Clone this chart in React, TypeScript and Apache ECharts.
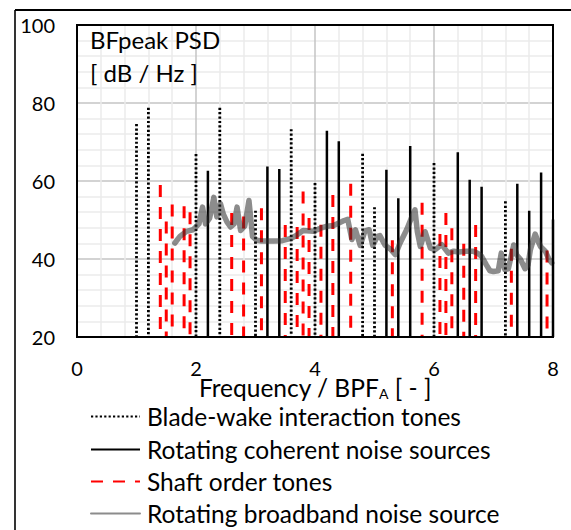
import React, { useEffect, useRef } from "react";
import * as echarts from "echarts";

// Blade-wake interaction tones (dotted black)
const bladeWakeX = [1.0, 1.2, 2.0, 2.4, 3.0, 3.6, 4.0, 4.8, 5.0, 6.0, 7.2];
const bladeWakeDb = [74.6, 78.8, 66.9, 78.8, 52.4, 73.3, 59.5, 67.0, 53.3, 64.6, 54.8];

// Rotating coherent noise sources (solid black)
const coherentX = [2.2, 3.2, 3.4, 4.2, 4.4, 5.2, 5.4, 5.6, 6.4, 6.6, 6.8, 7.4, 7.6, 7.8, 8.0];
const coherentDb = [62.6, 63.7, 63.1, 72.9, 70.2, 62.9, 55.6, 69.0, 67.4, 60.3, 58.5, 59.3, 52.4, 62.2, 50.1];

// Shaft order tones (dashed red)
const shaftX = [1.4, 1.5, 1.6, 1.8, 1.9, 2.6, 2.8, 3.1, 3.5, 3.7, 3.8, 3.9, 4.1, 4.3, 4.6, 5.3, 5.8, 6.1, 6.2, 6.3, 6.5, 6.7, 7.3, 7.9];
const shaftDb = [59.0, 49.6, 54.0, 53.5, 52.0, 51.8, 50.9, 53.0, 48.7, 48.2, 57.3, 50.5, 48.8, 56.4, 59.3, 44.8, 54.4, 46.4, 51.8, 47.9, 43.9, 48.7, 42.6, 42.2];

// Rotating broadband noise source (thick grey)
const broadbandX = [1.645, 1.73, 1.84, 1.95, 2.05, 2.11, 2.16, 2.23, 2.3, 2.35, 2.41, 2.46, 2.52, 2.58, 2.64, 2.69, 2.75, 2.82, 2.89, 2.95, 3.02, 3.1, 3.3, 3.45, 3.6, 3.7, 3.8, 3.97, 4.05, 4.11, 4.2, 4.31, 4.4, 4.48, 4.55, 4.62, 4.68, 4.76, 4.84, 4.91, 4.97, 5.05, 5.09, 5.18, 5.27, 5.35, 5.43, 5.54, 5.62, 5.68, 5.72, 5.77, 5.85, 5.94, 6.02, 6.13, 6.24, 6.33, 6.41, 6.55, 6.66, 6.73, 6.8, 6.88, 6.94, 7.0, 7.08, 7.13, 7.19, 7.25, 7.34, 7.39, 7.45, 7.53, 7.58, 7.62, 7.7, 7.75, 7.79, 7.87, 7.93, 7.98];
const broadbandDb = [44.1, 45.8, 47.1, 47.5, 49.0, 53.3, 49.0, 50.5, 55.8, 50.8, 54.2, 51.5, 49.5, 48.2, 49.0, 53.3, 47.3, 48.5, 55.0, 45.8, 44.8, 44.6, 44.6, 44.7, 45.3, 46.2, 47.3, 47.1, 47.6, 48.0, 48.4, 48.6, 49.2, 49.8, 50.2, 45.0, 47.5, 43.5, 47.2, 47.5, 43.5, 45.8, 46.0, 43.5, 42.5, 41.1, 44.1, 47.5, 50.5, 52.6, 47.0, 43.2, 47.0, 42.8, 42.4, 43.7, 41.5, 42.0, 41.8, 42.0, 42.0, 41.5, 40.7, 38.5, 37.0, 36.8, 37.0, 41.5, 37.3, 37.5, 43.6, 41.0, 40.0, 37.5, 38.5, 42.4, 46.4, 44.5, 43.2, 42.0, 40.0, 39.0];

const xTicks = [0, 2, 4, 6, 8];
const yTicks = [20, 40, 60, 80, 100];

const NAME_BW = "Blade-wake interaction tones";
const NAME_CO = "Rotating coherent noise sources";
const NAME_SH = "Shaft order tones";
const NAME_BB = "Rotating broadband noise source";
const legendNames = [NAME_BW, NAME_CO, NAME_SH, NAME_BB];

const FONT = "Lato, 'Noto Sans', sans-serif";

export default function App() {
  const ref = useRef<HTMLDivElement>(null);

  useEffect(() => {
    if (!ref.current) return;
    const chart = echarts.init(ref.current, null, { renderer: "svg" });
    const yMin = yTicks[0];

    const stems = (name: string, xs: number[], ys: number[], lineStyle: any, z: number) =>
      xs.map((x, i) => ({
        name,
        type: "line",
        data: [
          [x, ys[i]],
          [x, yMin],
        ],
        symbol: "none",
        silent: true,
        z,
        lineStyle,
        itemStyle: { color: lineStyle.color },
      }));

    const bwStyle = { color: "#000000", width: 2.8, type: [2.2, 2.2], cap: "butt" };
    const coStyle = { color: "#000000", width: 2.5, type: "solid", cap: "butt" };
    const shStyle = { color: "#ff0000", width: 3, type: [12, 10], cap: "butt" };
    const bbStyle = { color: "rgba(45,45,45,0.55)", width: 5.5, type: "solid", join: "round", cap: "round" };

    const series: any[] = [
      ...stems(NAME_BW, bladeWakeX, bladeWakeDb, bwStyle, 2),
      ...stems(NAME_CO, coherentX, coherentDb, coStyle, 3),
      ...stems(NAME_SH, shaftX, shaftDb, shStyle, 4),
      {
        name: NAME_BB,
        type: "line",
        data: broadbandX.map((x, i) => [x, broadbandDb[i]]),
        symbol: "none",
        silent: true,
        z: 5,
        lineStyle: bbStyle,
        itemStyle: { color: "#888888" },
      },
    ];

    const legendRowTops = [404, 437, 469, 501];
    const legends = legendNames.map((n, i) => ({
      orient: "vertical",
      left: 90,
      top: legendRowTops[i],
      padding: 0,
      itemWidth: 49,
      itemHeight: 14,
      data: [n],
      itemStyle: { opacity: 0, color: "transparent", borderWidth: 0 },
      textStyle: { fontSize: 24.5, fontFamily: FONT, color: "#000", lineHeight: 24, padding: [0, 0, 0, 2] },
      selectedMode: false,
    }));

    const option: any = {
      animation: false,
      grid: {
        left: 77,
        right: 18,
        top: 25,
        bottom: 193,
        show: true,
        borderColor: "#000000",
        borderWidth: 2,
        backgroundColor: "transparent",
        z: 10,
      },
      xAxis: {
        type: "value",
        min: xTicks[0],
        max: xTicks[xTicks.length - 1],
        interval: xTicks[1] - xTicks[0],
        axisLine: { show: false },
        axisTick: { show: false },
        minorTick: { show: false, splitNumber: 5 },
        splitLine: { show: true, lineStyle: { color: "#c4c4c4", width: 1.5 } },
        minorSplitLine: { show: true, lineStyle: { color: "#ebebeb", width: 1.5 } },
        axisLabel: { fontSize: 20, fontFamily: FONT, color: "#000", margin: 21 },
        name: "{a|Frequency / BPF}{s|A}{a| [ - ]}",
        nameLocation: "middle",
        nameGap: 37,
        nameMoveOverlap: false,
        nameTextStyle: {
          fontFamily: FONT,
          color: "#000",
          rich: {
            a: { fontSize: 24.5, fontFamily: FONT, color: "#000", lineHeight: 26 },
            s: { fontSize: 14, fontFamily: FONT, color: "#000", verticalAlign: "bottom", lineHeight: 26 },
          },
        },
      },
      yAxis: {
        type: "value",
        min: yTicks[0],
        max: yTicks[yTicks.length - 1],
        interval: yTicks[1] - yTicks[0],
        axisLine: { show: false },
        axisTick: { show: false },
        minorTick: { show: false, splitNumber: 5 },
        splitLine: { show: true, lineStyle: { color: "#c4c4c4", width: 1.5 } },
        minorSplitLine: { show: true, lineStyle: { color: "#ebebeb", width: 1.5 } },
        axisLabel: { fontSize: 20, fontFamily: FONT, color: "#000", margin: 22 },
      },
      legend: legends,
      graphic: [
        { type: "line", shape: { x1: 15, y1: 10, x2: 571, y2: 10 }, style: { stroke: "#000", lineWidth: 2 }, silent: true },
        { type: "line", shape: { x1: 15, y1: 10, x2: 15, y2: 530 }, style: { stroke: "#000", lineWidth: 1.6 }, silent: true },
        {
          type: "text",
          left: 90,
          top: 27,
          silent: true,
          style: { text: "BFpeak PSD", fontSize: 24, fontFamily: FONT, fill: "#000" },
          z: 20,
        },
        {
          type: "text",
          left: 90,
          top: 60,
          silent: true,
          style: { text: "[ dB / Hz ]", fontSize: 24, fontFamily: FONT, fill: "#000" },
          z: 20,
        },
      ],
      series,
    };

    chart.setOption(option);
    return () => chart.dispose();
  }, []);

  return (
    <div
      ref={ref}
      style={{ position: "absolute", left: 0, top: 0, width: 571, height: 530, background: "#fff" }}
    />
  );
}
